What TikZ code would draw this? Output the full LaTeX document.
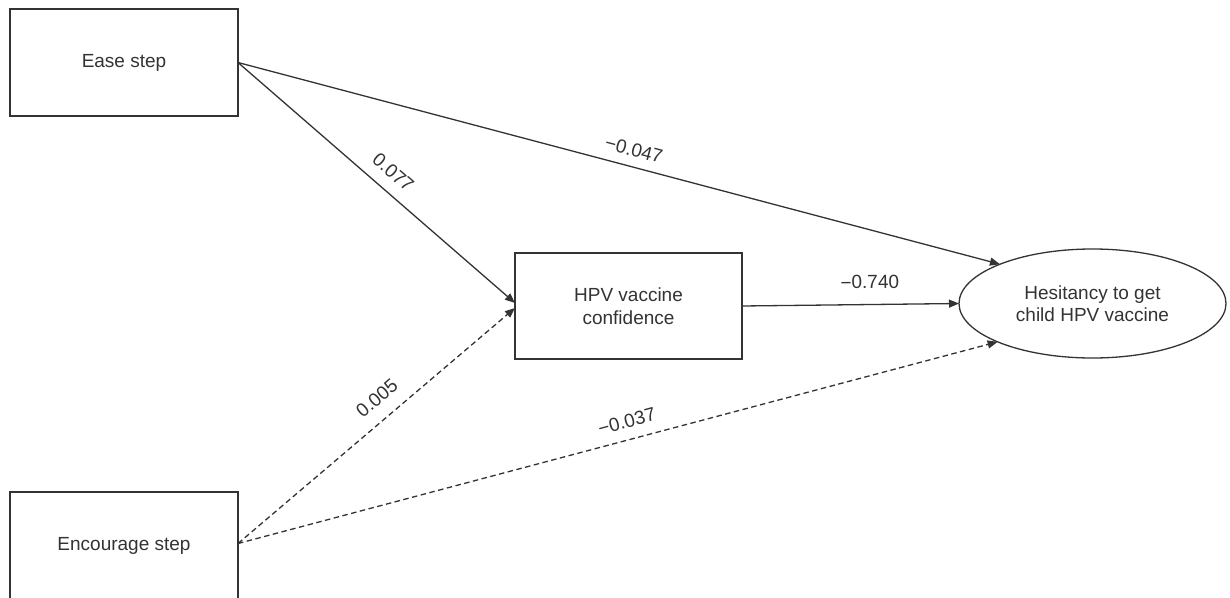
\documentclass[tikz,border=0pt]{standalone}
\usepackage{fontspec}
\setmainfont{Liberation Sans}
\usetikzlibrary{arrows.meta,shapes.geometric}
\definecolor{ink}{HTML}{333333}
\begin{document}
\begin{tikzpicture}[x=1pt,y=-1pt,
  every node/.style={font=\fontsize{19}{22.5}\selectfont, text=ink},
  varbox/.style={draw=ink, line width=1.3pt, rectangle, minimum width=228pt, minimum height=107pt, inner sep=0pt, outer sep=0pt, align=center},
  outcome/.style={draw=ink, line width=1.3pt, ellipse, minimum width=267pt, minimum height=109pt, inner sep=0pt, outer sep=0pt, align=center},
  path/.style={draw=ink, line width=1.3pt, -{Triangle[length=10pt,width=8pt]}},
  nspath/.style={path, dash pattern=on 5.5pt off 3.5pt},
  lbl/.style={inner sep=0pt, sloped}
]
\useasboundingbox (0,0) rectangle (1230,597);
\node[varbox] (ease) at (124,62.5) {Ease step};
\node[varbox] (enc) at (124,545.5) {Encourage step};
\node[varbox, minimum width=227pt, minimum height=106pt] (hpv) at (628.5,306) {HPV vaccine\\confidence};
\node[outcome] (hes) at (1092.5,303.5) {Hesitancy to get\\child HPV vaccine};

\draw[path] (ease.east) -- node[lbl, pos=0.514, above=9.5pt] {−0.047} (hes.157);
\draw[path] (ease.east) -- node[lbl, pos=0.516, above=11.5pt] {0.077} ([yshift=3pt]hpv.west);
\draw[nspath] ([yshift=2pt]enc.east) -- node[lbl, pos=0.55, above=13.5pt] {0.005} ([yshift=-2pt]hpv.west);
\draw[nspath] ([yshift=2pt]enc.east) -- node[lbl, pos=0.518, above=11pt] {−0.037} (hes.202.5);
\draw[path] (hpv.east) -- node[lbl, pos=0.59, above=15pt] {−0.740} (hes.west);
\end{tikzpicture}
\end{document}
